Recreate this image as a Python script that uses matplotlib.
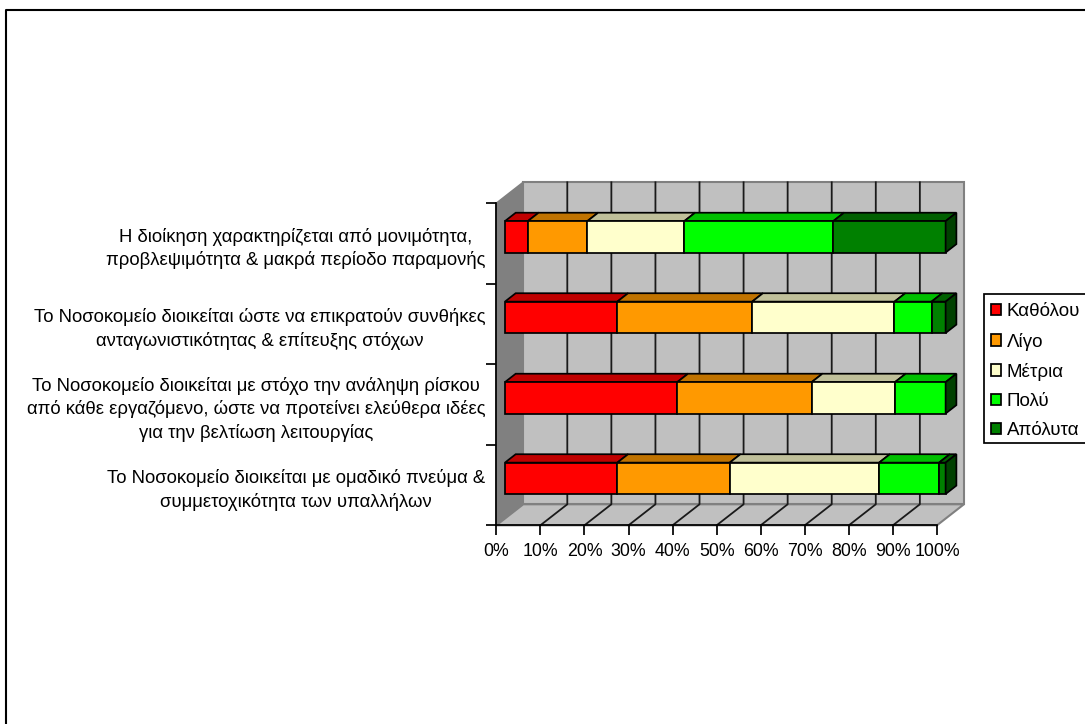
import matplotlib
matplotlib.use("Agg")
import matplotlib.pyplot as plt
from matplotlib.patches import Polygon, Patch, Rectangle
from matplotlib.lines import Line2D

plt.rcParams['font.family'] = ['Liberation Sans', 'DejaVu Sans']

# bottom to top, as the value axis stacks them
categories = [
    "Το Νοσοκομείο διοικείται με ομαδικό πνεύμα &\nσυμμετοχικότητα των υπαλλήλων",
    "Το Νοσοκομείο διοικείται με στόχο την ανάληψη ρίσκου\nαπό κάθε εργαζόμενο, ώστε να προτείνει ελεύθερα ιδέες\nγια την βελτίωση λειτουργίας",
    "Το Νοσοκομείο διοικείται ώστε να επικρατούν συνθήκες\nανταγωνιστικότητας & επίτευξης στόχων",
    "Η διοίκηση χαρακτηρίζεται από μονιμότητα,\nπροβλεψιμότητα & μακρά περίοδο παραμονής",
]
series_names = ["Καθόλου", "Λίγο", "Μέτρια", "Πολύ", "Απόλυτα"]
kathol = [25.5, 39.1, 25.5, 5.2]
ligo = [25.5, 30.5, 30.6, 13.5]
metria = [33.9, 18.9, 32.3, 22.0]
poly = [13.6, 11.5, 8.4, 33.8]
apolyta = [1.5, 0.0, 3.2, 25.5]
x_ticks = [0, 10, 20, 30, 40, 50, 60, 70, 80, 90, 100]

series = [kathol, ligo, metria, poly, apolyta]
front_colors = ['#FF0000', '#FF9900', '#FFFFCC', '#00FF00', '#008000']
top_colors = ['#C00000', '#C07300', '#C0C09A', '#00C000', '#006000']
side_color = '#004000'

W, H = 1085, 724
DEPTH_X = 6.11   # full floor depth in x units
DEPTH_Y = 0.261  # full floor depth in y units
BAR_NEAR = 0.32  # bar position inside the depth
BAR_FAR = 0.72
BAR_H = 0.39


def project(x, y, d):
    return (x + d * DEPTH_X, y + d * DEPTH_Y)


def quad(ax, pts, color, edge='black', lw=1.25, z=3):
    ax.add_patch(Polygon(pts, closed=True, facecolor=color, edgecolor=edge,
                         linewidth=lw, joinstyle='miter', clip_on=False, zorder=z))


def draw_walls(ax):
    n = len(categories)
    quad(ax, [project(0, 0, 0), project(0, 0, 1), project(0, n, 1), project(0, n, 0)],
         '#808080', edge='#808080', z=1)
    quad(ax, [project(0, 0, 1), project(100, 0, 1), project(100, n, 1), project(0, n, 1)],
         '#C0C0C0', edge='#808080', lw=1.5, z=1)
    quad(ax, [project(0, 0, 0), project(100, 0, 0), project(100, 0, 1), project(0, 0, 1)],
         '#C0C0C0', edge='#808080', lw=1.5, z=1)
    for t in x_ticks[1:-1]:
        x0, y0 = project(t, 0, 0)
        x1, y1 = project(t, 0, 1)
        x2, y2 = project(t, n, 1)
        ax.add_line(Line2D([x0, x1, x2], [y0, y1, y2], color='#1a1a1a', lw=1.3,
                           clip_on=False, zorder=2))


def draw_bar(ax, row):
    y0 = row + 0.5 - BAR_H / 2
    y1 = row + 0.5 + BAR_H / 2
    left = 0
    for vals, fc, tc in zip(series, front_colors, top_colors):
        right = left + vals[row]
        if vals[row] > 0:
            quad(ax, [project(left, y1, BAR_NEAR), project(right, y1, BAR_NEAR),
                      project(right, y1, BAR_FAR), project(left, y1, BAR_FAR)], tc)
            quad(ax, [project(left, y0, BAR_NEAR), project(right, y0, BAR_NEAR),
                      project(right, y1, BAR_NEAR), project(left, y1, BAR_NEAR)], fc)
        left = right
    quad(ax, [project(left, y0, BAR_NEAR), project(left, y0, BAR_FAR),
              project(left, y1, BAR_FAR), project(left, y1, BAR_NEAR)], side_color)


fig = plt.figure(figsize=(W / 100, H / 100), dpi=100)
ax = fig.add_axes([496.3 / W, 1 - 525.3 / H, 440.7 / W, 322.0 / H])
ax.set_xlim(0, 100)
ax.set_ylim(0, len(categories))
ax.patch.set_visible(False)

draw_walls(ax)
for row in range(len(categories)):
    draw_bar(ax, row)

for side in ['top', 'right']:
    ax.spines[side].set_visible(False)
for side in ['left', 'bottom']:
    ax.spines[side].set_linewidth(1.25)
    ax.spines[side].set_zorder(4)

ax.set_xticks(x_ticks)
ax.set_xticklabels([f"{t}%" for t in x_ticks], fontsize=12.8)
ax.tick_params(axis='x', length=7, width=1.25, pad=5.5)
ax.set_yticks(range(len(categories) + 1))
ax.set_yticklabels([])
ax.tick_params(axis='y', which='major', length=7, width=1.25)
ax.set_yticks([i + 0.5 for i in range(len(categories))], minor=True)
ax.set_yticklabels(categories, minor=True, fontsize=13.3, ha='right',
                   multialignment='center', linespacing=1.42)
ax.tick_params(axis='y', which='minor', length=0, pad=8)

# legend box is drawn apart so the rows can sit a little low inside it
fig.add_artist(Rectangle((984.5 / W, 1 - 443 / H), 110 / W, 149 / H, facecolor='white',
                         edgecolor='black', linewidth=1.25, transform=fig.transFigure))
handles = [Patch(facecolor=c, edgecolor='black', linewidth=1.25) for c in front_colors]
leg = fig.legend(handles, series_names, loc='upper left',
                 bbox_to_anchor=(984.5 / W, 1 - 446 / H, 110 / W, 149 / H),
                 mode='expand', fontsize=13.5, frameon=False,
                 handlelength=0.56, handleheight=0.56,
                 handletextpad=0.3, labelspacing=0.65, borderpad=0.34,
                 borderaxespad=0)

# outer chart frame, only the top and left edges fall inside the image
fig.add_artist(Line2D([6 / W, 6 / W, 1], [0, 1 - 9.5 / H, 1 - 9.5 / H], color='black',
                      lw=1.5, transform=fig.transFigure))

fig.savefig("out.png", dpi=100)
